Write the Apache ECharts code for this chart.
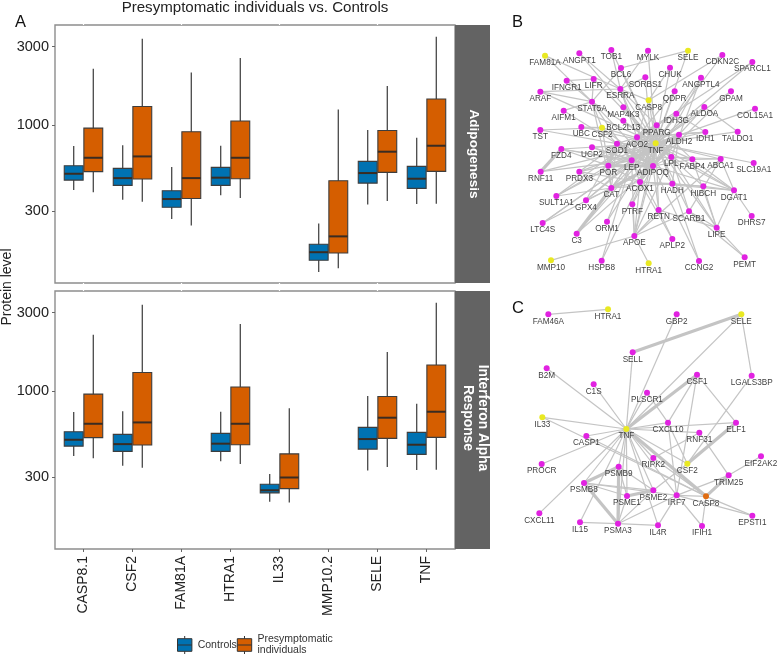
<!DOCTYPE html>
<html>
<head>
<meta charset="utf-8">
<title>Presymptomatic individuals vs. Controls</title>
<script src="https://cdn.jsdelivr.net/npm/echarts@6/dist/echarts.min.js"></script>
<style>
html,body{margin:0;padding:0;background:#fff}
#chart{width:778px;height:656px}
</style>
</head>
<body>
<div id="chart"></div>
<script>
// values: [gene, whisker high, q3, median, q1, whisker low]
const genes = ['CASP8.1','CSF2','FAM81A','HTRA1','IL33','MMP10.2','SELE','TNF'];
const yTicks = [300,1000,3000];

const adipoControls = [
    ['CASP8.1',748,568,508,465,405],
    ['CSF2',755,548,478,432,354],
    ['FAM81A',558,401,357,318,270],
    ['HTRA1',751,555,481,432,376],
    ['MMP10.2',254,190,170,152,129],
    ['SELE',935,604,513,446,331],
    ['TNF',840,563,474,414,333]
];
const adipoPresym = [
    ['CASP8.1',2200,961,635,523,392],
    ['CSF2',3344,1300,647,472,344],
    ['FAM81A',2090,913,478,360,247],
    ['HTRA1',2554,1060,635,474,362],
    ['MMP10.2',1247,461,212,168,136],
    ['SELE',1727,930,691,518,347],
    ['TNF',3438,1441,751,525,334]
];
const ifnControls = [
    ['CASP8.1',748,568,508,465,405],
    ['CSF2',755,548,478,432,354],
    ['HTRA1',751,555,481,432,376],
    ['IL33',315,273,251,242,214],
    ['SELE',935,604,513,446,331],
    ['TNF',840,563,474,414,333]
];
const ifnPresym = [
    ['CASP8.1',2200,961,635,523,392],
    ['CSF2',3344,1300,647,472,344],
    ['HTRA1',2554,1060,635,474,362],
    ['IL33',789,417,300,257,212],
    ['SELE',1727,930,691,518,347],
    ['TNF',3438,1441,751,525,334]
];

// network B: name, x, y in a 834 x 885 frame laid over the panel
const nodesB = [
    ['FAM81A',135,167],['ANGPT1',238,160],['TOB1',334,150],['MYLK',444,152],['SELE',564,152],
    ['CDKN2C',667,165],['SPARCL1',757,186],['BCL6',363,204],['CHUK',510,203],['IFNGR1',200,242],
    ['LIFR',281,237],['SORBS1',436,232],['ANGPTL4',603,233],['ARAF',121,275],['ESRRA',361,267],
    ['QDPR',524,274],['GPAM',693,274],['STAT5A',276,305],['CASP8',446,301],['MAP4K3',370,322],
    ['ALDOA',613,321],['AIFM1',191,332],['COL15A1',765,326],['IDH3G',529,341],['BCL2L13',370,362],
    ['UBC',244,381],['CSF2',306,383],['PPARG',470,376],['TST',121,390],['ALDH2',537,404],
    ['IDH1',616,396],['TALDO1',713,395],['ACO2',411,412],['SOD1',351,431],['TNF',467,430],
    ['FZD4',184,447],['UCP2',276,442],['LPL',514,471],['FABP4',577,478],['ABCA1',662,477],
    ['SLC19A1',761,489],['RNF11',122,515],['PRDX3',238,515],['POR',325,497],['LEP',395,481],
    ['ADIPOQ',459,498],['ACOX1',420,546],['HADH',517,551],['HIBCH',610,559],['DGAT1',702,571],
    ['CAT',334,564],['SULT1A1',169,588],['GPX4',258,601],['PTRF',397,613],['RETN',476,630],
    ['SCARB1',567,634],['LTC4S',128,669],['ORM1',321,665],['DHRS7',755,648],['LIPE',650,683],
    ['C3',230,701],['APOE',403,708],['APLP2',517,717],['MMP10',153,781],['HSPB8',305,782],
    ['HTRA1',446,790],['CCNG2',597,783],['PEMT',734,772]
];
const yellowB = ['FAM81A','SELE','CASP8','CSF2','TNF','MMP10','HTRA1'];
const edgesB = [
    'FAM81A-ESRRA','FAM81A-STAT5A','ANGPT1-ESRRA','ANGPT1-TNF','TOB1-ESRRA','TOB1-TNF','BCL6-TNF','BCL6-STAT5A',
    'MYLK-TNF','MYLK-ESRRA','SELE-BCL6','SELE-TNF','CDKN2C-CASP8','CDKN2C-TNF','SPARCL1-TNF','SPARCL1-ACO2',
    'CHUK-TNF','CHUK-CASP8','IFNGR1-LIFR','IFNGR1-STAT5A','LIFR-STAT5A','LIFR-TNF','SORBS1-ADIPOQ','SORBS1-ESRRA',
    'ANGPTL4-LPL','ANGPTL4-TNF','ANGPTL4-ADIPOQ','ARAF-ESRRA','ARAF-TNF','ARAF-STAT5A','ESRRA-PPARG','ESRRA-TNF',
    'ESRRA-ACO2','ESRRA-ADIPOQ','ESRRA-CASP8','QDPR-TNF','QDPR-ACO2','GPAM-ADIPOQ','GPAM-LEP','STAT5A-TNF',
    'STAT5A-LEP','STAT5A-ADIPOQ','STAT5A-CAT','CASP8-TNF','CASP8-ACO2','CASP8-PPARG','MAP4K3-TNF','ALDOA-TNF',
    'ALDOA-ALDH2','ALDOA-TALDO1','AIFM1-SOD1','AIFM1-STAT5A','COL15A1-TNF','IDH3G-ACO2','IDH3G-IDH1','IDH3G-TNF',
    'BCL2L13-TNF','UBC-TNF','UBC-CSF2','CSF2-TNF','CSF2-LEP','CSF2-ADIPOQ','CSF2-STAT5A','CSF2-POR','PPARG-TNF',
    'PPARG-ADIPOQ','PPARG-LEP','PPARG-CAT','PPARG-LPL','PPARG-FABP4','PPARG-ACOX1','TST-SOD1','TST-CSF2','ALDH2-TNF',
    'ALDH2-ACO2','ALDH2-IDH1','ALDH2-HADH','ALDH2-ACOX1','IDH1-ACO2','IDH1-TNF','TALDO1-TNF','ACO2-TNF','ACO2-SOD1',
    'ACO2-POR','ACO2-HADH','ACO2-IDH1','SOD1-TNF','SOD1-CAT','SOD1-PRDX3','SOD1-LEP','FZD4-TNF',
    'FZD4-ADIPOQ','FZD4-LEP','FZD4-POR','UCP2-TNF','UCP2-ADIPOQ','UCP2-LEP','TNF-POR',
    'TNF-FABP4','TNF-ABCA1','TNF-SLC19A1','TNF-CAT','TNF-ACOX1','TNF-HADH','TNF-PTRF','TNF-RETN','TNF-APOE','TNF-C3',
    'TNF-PRDX3','TNF-ORM1','TNF-SCARB1','TNF-LIPE','TNF-DGAT1','TNF-HIBCH','TNF-GPX4','TNF-RNF11','TNF-SULT1A1',
    'TNF-LTC4S','LEP-ADIPOQ','LEP-POR','LEP-APOE','LEP-CAT','LEP-ACOX1','LEP-LPL','LEP-RETN','ADIPOQ-LPL','ADIPOQ-RETN',
    'ADIPOQ-APOE','ADIPOQ-FABP4','ADIPOQ-ACOX1','ADIPOQ-DGAT1','ADIPOQ-PTRF','LPL-FABP4','LPL-APOE','LPL-ABCA1',
    'LPL-LIPE','LPL-DGAT1','LPL-SCARB1','FABP4-ABCA1','FABP4-LIPE','FABP4-DGAT1','ABCA1-APOE','ABCA1-SCARB1','ABCA1-DGAT1',
    'POR-CAT','POR-ACOX1','POR-SULT1A1','POR-PRDX3','RNF11-LEP','PRDX3-CAT','PRDX3-ACOX1','CAT-ACOX1','CAT-HADH','CAT-GPX4',
    'CAT-LTC4S','CAT-SULT1A1','ACOX1-HADH','ACOX1-HIBCH','ACOX1-DGAT1','HADH-HIBCH','HADH-CCNG2','HIBCH-DGAT1',
    'HIBCH-LIPE','DGAT1-DHRS7','DGAT1-LIPE','LIPE-PEMT','LIPE-RETN','SCARB1-APOE','SCARB1-LIPE','APOE-HTRA1','APOE-MMP10',
    'APOE-RETN','APOE-PTRF','APOE-ACOX1','ORM1-LEP','C3-ADIPOQ','HSPB8-LEP','HSPB8-ACOX1','APLP2-RETN','APLP2-ACOX1',
    'CCNG2-ADIPOQ','PEMT-SCARB1','GPX4-SOD1','GPX4-LEP','LTC4S-LEP','SULT1A1-ACO2'
];
const thickB = [
    'TNF-LEP','TNF-ADIPOQ','TNF-LPL','ACO2-ADIPOQ','ACO2-LEP','SOD1-ADIPOQ','PPARG-ACO2','ALDH2-ADIPOQ','ALDH2-LEP',
    'FZD4-RNF11','CAT-C3','SOD1-POR','POR-ADIPOQ','CAT-ADIPOQ'
];

// network C, same kind of frame
const nodesC = [
    ['FAM46A',145,58],['HTRA1',324,43],['GBP2',530,58],['SELE',724,58],['SELL',398,172],['B2M',140,220],
    ['CSF1',591,239],['LGALS3BP',755,242],['C1S',281,268],['PLSCR1',441,293],['IL33',127,367],['CXCL10',504,383],
    ['ELF1',708,383],['TNF',379,402],['CASP1',259,423],['RNF31',598,413],['PROCR',125,507],['RIPK2',460,489],
    ['CSF2',562,506],['EIF2AK2',783,484],['PSMB9',356,515],['TRIM25',686,541],['PSMB8',252,564],['PSME2',460,586],
    ['PSME1',381,603],['IRF7',530,601],['CASP8',618,604],['EPSTI1',757,662],['CXCL11',118,655],['IL15',240,682],
    ['PSMA3',354,686],['IL4R',474,691],['IFIH1',606,693]
];
const yellowC = ['HTRA1','SELE','IL33','TNF','CSF2'];
const orangeC = ['CASP8'];
const edgesC = [
    'FAM46A-HTRA1','GBP2-TNF','SELE-TNF','SELE-LGALS3BP','SELL-TNF','B2M-TNF','C1S-TNF','CSF1-CXCL10','CSF1-ELF1',
    'PLSCR1-TNF','PLSCR1-CXCL10','LGALS3BP-CSF2','IL33-TNF','IL33-CASP8','CASP1-TNF','CASP1-CASP8','PROCR-TNF',
    'CXCL10-TNF','CXCL10-CSF2','CXCL10-IRF7','ELF1-TNF','RNF31-TNF','RNF31-TRIM25','RIPK2-TNF','RIPK2-RNF31','RIPK2-CASP8',
    'CSF2-TNF','PSMB9-TNF','PSMB9-PSME1','PSMB9-PSME2','PSMB8-TNF','PSMB8-PSME1','PSMB8-PSME2','PSMB8-IRF7','PSME1-TNF',
    'PSME1-PSMA3','PSME2-TNF','PSME2-PSMA3','PSME2-CSF2','IRF7-TNF','IRF7-PSMA3','IRF7-TRIM25','IRF7-IFIH1','IRF7-CSF1',
    'IRF7-EPSTI1','IRF7-CASP8','IRF7-IL4R','TRIM25-EIF2AK2','CASP8-EPSTI1','CASP8-IFIH1','IL15-TNF','IL15-PSMA3',
    'PSMA3-IL4R','PSMA3-TNF','IL4R-TNF','CXCL11-TNF'
];
const thickC = [
    'SELE-SELL','CSF1-TNF','ELF1-CSF2','PSMB9-PSMB8','PSMB9-PSMA3','PSMB8-PSMA3','PSME1-PSME2','TRIM25-CASP8','CASP8-TNF'
];

const FONT = '"Liberation Sans", Arial, sans-serif';
const BLUE = '#0072B2', ORANGE = '#D55E00', EDGE = '#333333';
const MAGENTA = '#e122e1', YELLOW = '#e9e922', NODE_ORANGE = '#e06c12';

let chart = echarts.init(document.getElementById('chart'), null, {renderer:'canvas'});

// box + whisker + thick median, side is -1 (left of the tick) or 1 (right)
function boxItem(side){
    return function(params, api){
        let band = api.size([1,0])[0];
        let w = band*0.385;
        let cx = api.coord([api.value(0),1000])[0] + side*(band*0.2);
        let hi = api.coord([api.value(0),api.value(1)])[1];
        let q3 = api.coord([api.value(0),api.value(2)])[1];
        let med = api.coord([api.value(0),api.value(3)])[1];
        let q1 = api.coord([api.value(0),api.value(4)])[1];
        let lo = api.coord([api.value(0),api.value(5)])[1];
        return {
            type:'group',
            children:[
                {type:'line',shape:{x1:cx,y1:hi,x2:cx,y2:lo},style:{stroke:'#484848',lineWidth:1.3}},
                {type:'rect',shape:{x:cx-w/2,y:q3,width:w,height:q1-q3},
                    style:{fill:api.visual('color'),stroke:'#3d3d3d',lineWidth:1.1}},
                {type:'line',shape:{x1:cx-w/2,y1:med,x2:cx+w/2,y2:med},style:{stroke:'#3a2c22',lineWidth:2}}
            ]
        };
    };
}

function boxSeries(name, data, color, side, axisIndex){
    return {
        type:'custom',
        name:name,
        xAxisIndex:axisIndex,
        yAxisIndex:axisIndex,
        data:data,
        itemStyle:{color:color},
        encode:{x:0,y:[1,2,3,4,5]},
        renderItem:boxItem(side),
        silent:true
    };
}

function graphSeries(nodes, edges, thick, axisIndex, yellow, orange){
    return {
        type:'graph',
        coordinateSystem:'cartesian2d',
        xAxisIndex:axisIndex,
        yAxisIndex:axisIndex,
        layout:'none',
        silent:true,
        symbolSize:6,
        label:{show:true,position:'bottom',distance:0,fontFamily:FONT,fontSize:8.2,color:'#3f3f3f'},
        data:nodes.map(function(n){
            let c = MAGENTA;
            if(yellow.indexOf(n[0])>=0) c = YELLOW;
            if(orange.indexOf(n[0])>=0) c = NODE_ORANGE;
            return {name:n[0],value:[n[1],n[2]],itemStyle:{color:c}};
        }),
        links:edges.map(function(e){
            let p = e.split('-');
            return {source:p[0],target:p[1],lineStyle:{width:1.2}};
        }).concat(thick.map(function(e){
            let p = e.split('-');
            return {source:p[0],target:p[1],lineStyle:{width:3.2}};
        })),
        lineStyle:{color:'#c4c4c4',opacity:1,curveness:0}
    };
}

function yAxis(gridIndex){
    return {
        type:'log',
        gridIndex:gridIndex,
        min:110.6,
        max:4050,
        offset:4,
        axisLine:{show:false},
        splitLine:{show:false},
        minorTick:{show:false},
        axisTick:{show:true,length:3,lineStyle:{color:'#666'},customValues:yTicks},
        axisLabel:{show:true,margin:6,fontFamily:FONT,fontSize:14.5,color:'#222',customValues:yTicks,
            formatter:function(v){return String(Math.round(v));}}
    };
}

// white notches across the panel frame where the ggplot ticks were hidden
function notchAxis(gridIndex, position){
    return {
        type:'category',
        gridIndex:gridIndex,
        position:position,
        data:genes,
        axisLine:{show:false},
        axisLabel:{show:false},
        axisTick:{show:true,alignWithLabel:true,length:2,lineStyle:{color:'#fff',width:1.2}}
    };
}

const lettersStyle = {fontFamily:FONT,fontSize:16.5,fontWeight:'normal',color:'#111'};

let option = {
    animation:false,
    backgroundColor:'#fff',
    title:[
        {text:'Presymptomatic individuals vs. Controls',left:255,top:0,padding:0,textAlign:'center',
            textStyle:{fontFamily:FONT,fontSize:15.1,fontWeight:'normal',color:'#222'}},
        {text:'A',left:15,top:14,padding:0,textStyle:lettersStyle},
        {text:'B',left:512,top:14,padding:0,textStyle:lettersStyle},
        {text:'C',left:512,top:300,padding:0,textStyle:lettersStyle}
    ],
    legend:{
        left:177,
        top:634,
        padding:0,
        itemWidth:16,
        itemHeight:18,
        itemGap:0,
        selectedMode:false,
        textStyle:{fontFamily:FONT,fontSize:10.5,color:'#333',lineHeight:11},
        data:[
            {name:'Controls',icon:'path://M8 0V3M0 3H16V17H0ZM0 10H16M8 17V20',
                itemStyle:{color:BLUE,borderColor:EDGE,borderWidth:1}},
            {name:'Presymptomatic\nindividuals',icon:'path://M8 0V3M0 3H16V17H0ZM0 10H16M8 17V20',
                itemStyle:{color:ORANGE,borderColor:EDGE,borderWidth:1}}
        ]
    },
    grid:[
        {left:59,top:25,width:392,height:258},
        {left:59,top:291,width:392,height:258},
        {left:500,top:0,width:278,height:295},
        {left:500,top:295,width:278,height:295},
        // panel frames, the boxes sit slightly inset from them
        {left:55,top:25,width:400,height:258,show:true,borderColor:'#8d8d8d',borderWidth:1.4,backgroundColor:'#fff'},
        {left:55,top:291,width:400,height:258,show:true,borderColor:'#8d8d8d',borderWidth:1.4,backgroundColor:'#fff'}
    ],
    xAxis:[
        {type:'category',gridIndex:0,data:genes,axisLine:{show:false},
            axisTick:{show:true,alignWithLabel:true,length:2,lineStyle:{color:'#fff',width:1.2}},axisLabel:{show:false}},
        {type:'category',gridIndex:1,data:genes,axisLine:{show:false},
            axisTick:{show:true,alignWithLabel:true,length:3,lineStyle:{color:'#666'}},
            axisLabel:{show:true,rotate:90,margin:7,interval:0,fontFamily:FONT,fontSize:14,color:'#222'}},
        {type:'value',gridIndex:2,show:false,min:0,max:834},
        {type:'value',gridIndex:3,show:false,min:0,max:834},
        notchAxis(0,'top'),
        notchAxis(1,'top')
    ],
    yAxis:[
        yAxis(0),
        yAxis(1),
        {type:'value',gridIndex:2,show:false,min:0,max:885,inverse:true},
        {type:'value',gridIndex:3,show:false,min:0,max:885,inverse:true}
    ],
    graphic:[
        {type:'rect',shape:{x:455,y:25,width:35,height:258},style:{fill:'#636363'}},
        {type:'rect',shape:{x:455,y:291,width:35,height:258},style:{fill:'#636363'}},
        {type:'text',x:474,y:154,rotation:-Math.PI/2,
            style:{text:'Adipogenesis',fill:'#fff',font:'bold 13.6px '+FONT,textAlign:'center',textVerticalAlign:'middle'}},
        {type:'text',x:475,y:418,rotation:-Math.PI/2,
            style:{text:'Interferon Alpha\nResponse',fill:'#fff',font:'bold 13.8px '+FONT,textAlign:'center',textVerticalAlign:'middle',lineHeight:15}},
        {type:'text',x:7,y:287,rotation:Math.PI/2,
            style:{text:'Protein level',fill:'#222',font:'14px '+FONT,textAlign:'center',textVerticalAlign:'middle'}}
    ],
    series:[
        boxSeries('Controls',adipoControls,BLUE,-1,0),
        boxSeries('Presymptomatic\nindividuals',adipoPresym,ORANGE,1,0),
        boxSeries('Controls',ifnControls,BLUE,-1,1),
        boxSeries('Presymptomatic\nindividuals',ifnPresym,ORANGE,1,1),
        graphSeries(nodesB,edgesB,thickB,2,yellowB,[]),
        graphSeries(nodesC,edgesC,thickC,3,yellowC,orangeC)
    ]
};
chart.setOption(option);
</script>
</body>
</html>
